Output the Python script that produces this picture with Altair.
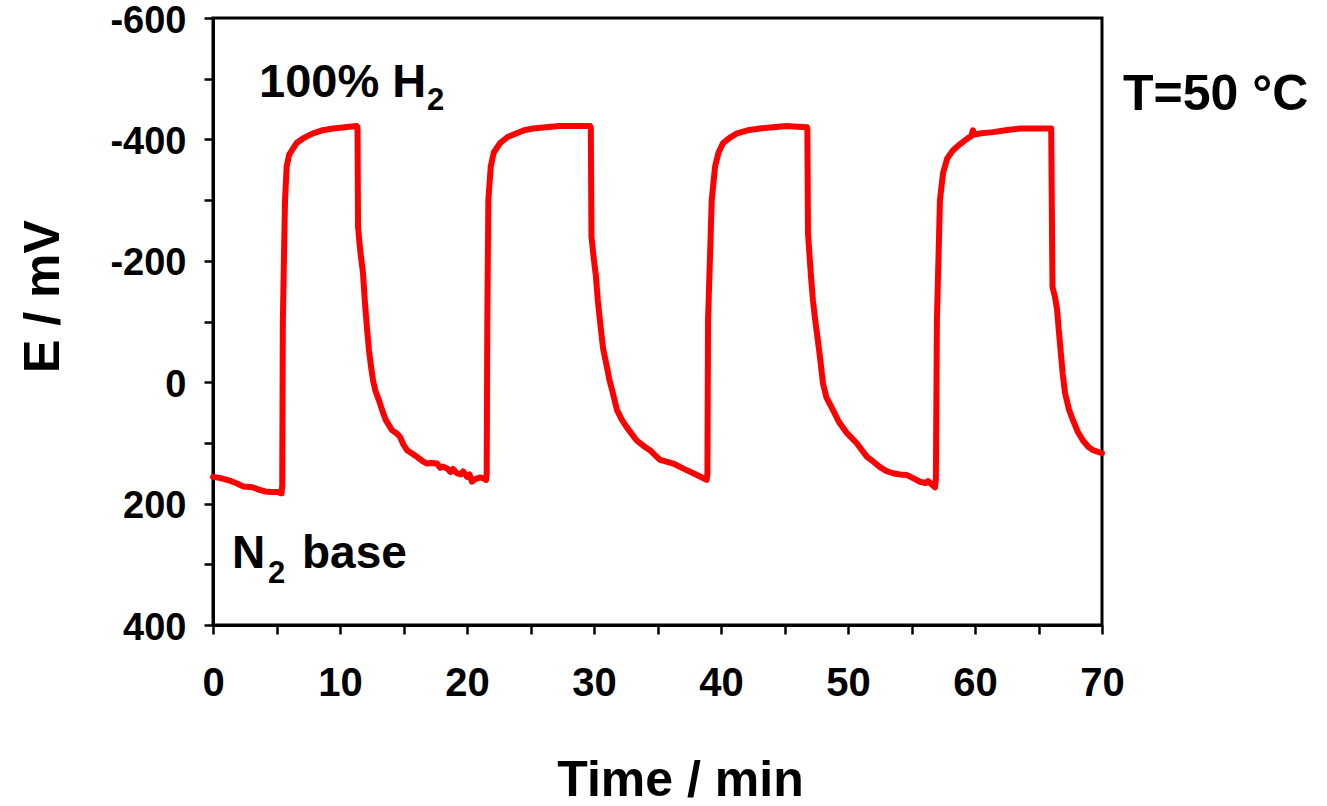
import altair as alt
import pandas as pd

# Time (min) and potential E (mV)
time_min = [
    0.0, 0.6, 1.3, 1.9, 2.4, 3.1, 3.6, 4.1, 4.6, 5.1, 5.4,
    5.45, 5.5, 5.6, 5.67, 5.8, 6.0, 6.58, 7.2, 7.87, 8.6, 9.45, 10.4, 11.3,
    11.38, 11.42, 11.6, 11.81, 11.95, 12.1, 12.28, 12.45, 12.6, 12.8, 13.07, 13.35, 13.62,
    14.09, 14.5, 14.72, 15.0, 15.28,
    15.7, 16.06, 16.5, 16.85, 17.2, 17.64, 17.9, 18.1, 18.43, 18.7, 18.9, 19.21, 19.5, 19.7,
    20.0, 20.2, 20.39, 20.6, 21.0, 21.26, 21.5,
    21.55, 21.6, 21.68, 21.87, 22.1, 22.6, 23.2, 23.91, 24.5, 25.2, 26.2, 27.32, 28.5, 29.69,
    29.75, 29.8, 30.0, 30.15, 30.3, 30.5, 30.72, 31.02, 31.2, 31.45, 31.81, 32.2, 32.57,
    33.0, 33.36, 33.9, 34.41, 34.8, 35.2, 35.7, 36.24, 37.0, 37.82, 38.3, 38.87,
    38.93, 38.98, 39.27, 39.53, 39.8, 40.16, 40.7, 41.26, 42.1, 43.07, 44.1, 45.2, 46.0, 46.77,
    46.8, 46.85, 47.0, 47.1, 47.24, 47.4, 47.56, 47.8, 48.03, 48.3, 48.82, 49.3, 49.92,
    50.3, 50.71, 51.1, 51.5, 52.0, 52.52, 53.0, 53.54, 54.1, 54.65, 55.2, 55.67, 56.1, 56.3,
    56.69, 56.85,
    56.92, 57.0, 57.24, 57.48, 57.8, 58.27, 58.7, 59.06, 59.5, 59.7, 59.84, 59.95, 60.5,
    61.42, 62.4, 63.54, 64.7, 65.91,
    66.0, 66.1, 66.3, 66.46, 66.6, 66.75, 66.9, 67.09, 67.4, 67.72, 68.1, 68.5, 68.9, 69.29, 70.0,
]
potential_mv = [
    156, 158, 162, 167, 172, 173, 177, 180, 181, 181, 183,
    170, -100, -220, -300, -355, -375, -394, -403, -410, -415, -418, -420, -422,
    -420, -256, -215, -180, -135, -95, -53, -25, -3, 15, 30, 48, 63,
    79, 85, 90, 103, 112,
    118, 123, 130, 134, 133, 134, 141, 139, 142, 148, 143, 150, 152, 147,
    156, 152, 164, 160, 157, 158, 161,
    150, -100, -300, -355, -378, -394, -404, -410, -415, -418, -420, -422, -422, -422,
    -420, -240, -200, -175, -135, -95, -55, -25, -5, 15, 46, 62, 74,
    86, 96, 105, 112, 120, 128, 131, 134, 142, 150, 155, 161,
    150, -102, -300, -355, -378, -394, -403, -410, -415, -418, -420, -422, -421, -420,
    -418, -245, -200, -170, -135, -105, -80, -40, 2, 25, 46, 66, 84,
    92, 101, 112, 123, 131, 140, 146, 150, 152, 153, 159, 164, 166, 163,
    170, 173,
    160, -102, -300, -344, -368, -382, -390, -396, -403, -405, -415, -408, -410,
    -412, -415, -418, -418, -418,
    -418, -157, -140, -120, -85, -50, -15, 18, 45, 63, 82, 96, 106, 112, 117,
]

x_ticks = list(range(0, 71, 5))
y_ticks = list(range(-600, 401, 100))

df = pd.DataFrame({"t": time_min, "E": potential_mv, "i": range(len(time_min))})

FONT = "Liberation Sans"

line = alt.Chart(df).mark_line(
    color="#ff0000", strokeWidth=6, strokeCap="round", strokeJoin="round"
).encode(
    x=alt.X(
        "t:Q",
        scale=alt.Scale(domain=[0, 70], nice=False, zero=False),
        axis=alt.Axis(
            values=x_ticks,
            labelExpr="datum.value % 10 == 0 ? datum.label : ''",
            title="Time / min",
            titleX=467, titleY=170, titleAlign="center", titleBaseline="alphabetic",
            titleFontSize=50, titleFont=FONT, titleFontWeight="bold", titleColor="black",
            labelFontSize=40, labelFont=FONT, labelFontWeight="bold", labelColor="black",
            labelBaseline="alphabetic", labelPadding=61, labelFlush=False,
            tickSize=9, tickWidth=2.5, tickColor="black",
            domainWidth=3, domainColor="black", grid=False,
        ),
    ),
    y=alt.Y(
        "E:Q",
        scale=alt.Scale(domain=[-600, 400], reverse=True, nice=False, zero=False),
        axis=alt.Axis(
            values=y_ticks,
            labelExpr="datum.value % 200 == 0 ? '' + datum.value : ''",
            title="E / mV",
            titleX=-155, titleY=278, titleAlign="center", titleBaseline="alphabetic",
            titleFontSize=50, titleFont=FONT, titleFontWeight="bold", titleColor="black",
            labelFontSize=38, labelFont=FONT, labelFontWeight="bold", labelColor="black",
            labelBaseline="middle", labelPadding=18, labelOffset=3,
            tickSize=9, tickWidth=2.5, tickColor="black",
            domainWidth=3, domainColor="black", grid=False,
        ),
    ),
    order="i:Q",
)

one = pd.DataFrame({"k": [0]})


def label(text, px, py, size):
    return alt.Chart(one).mark_text(
        text=text, align="left", baseline="alphabetic", font=FONT,
        fontWeight="bold", fontSize=size, color="black",
    ).encode(x=alt.value(px), y=alt.value(py))


annotations = [
    label("100% H", 46, 79, 47),
    label("2", 214, 92, 31),
    label("N", 19, 550, 46),
    label("2", 55, 565, 31),
    label("base", 89, 550, 46),
    label("T=50 °C", 910, 92, 50),
]

chart = alt.layer(line, *annotations).properties(
    width=889,
    height=607,
    autosize=alt.AutoSizeParams(type="none"),
    padding={"left": 213, "top": 18, "right": 225, "bottom": 181},
    background="white",
).configure_view(stroke="black", strokeWidth=3)

chart.save("out.html", embed_options={"renderer": "svg", "actions": False})
